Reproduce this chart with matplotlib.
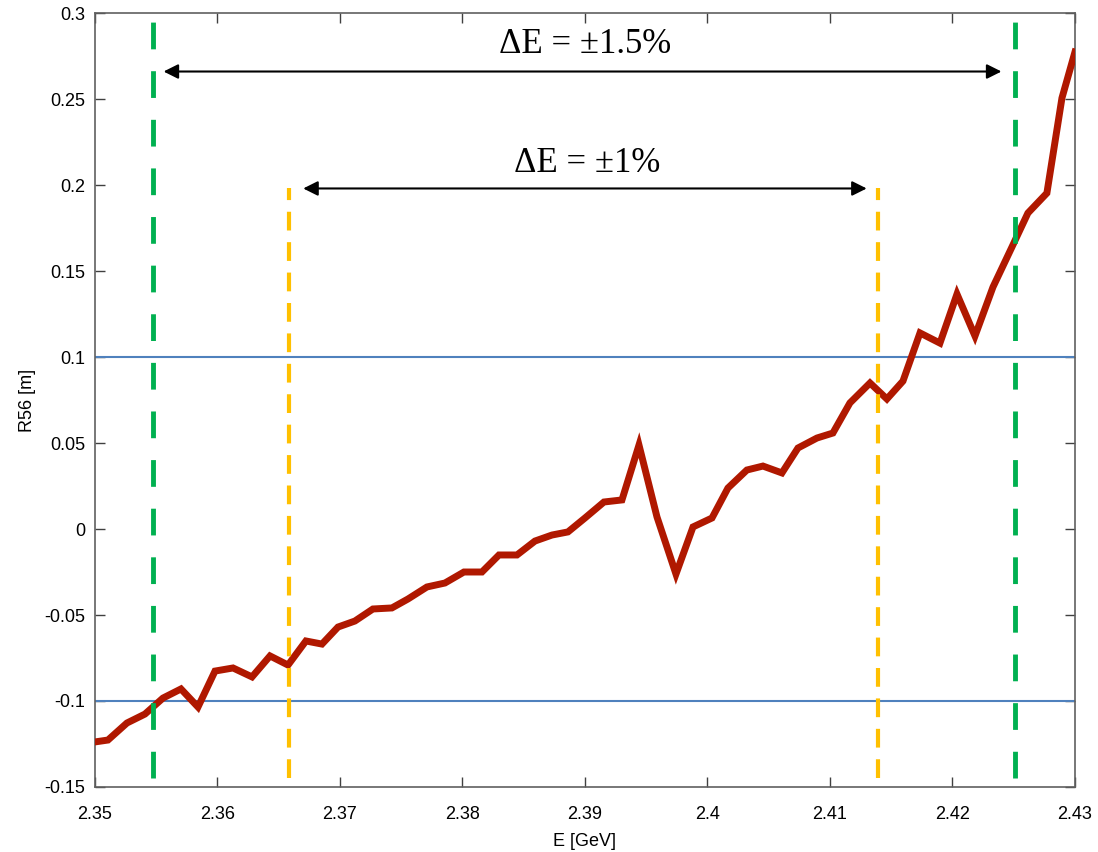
import matplotlib.pyplot as plt
import numpy as np

# beam energy [GeV] and R56 [m]
energy = [2.35000, 2.35106, 2.35261, 2.35408, 2.35555, 2.35702, 2.35841, 2.35980,
          2.36127, 2.36282, 2.36429, 2.36576, 2.36722, 2.36853, 2.36984, 2.37122,
          2.37269, 2.37424, 2.37555, 2.37710, 2.37857, 2.38012, 2.38159, 2.38298,
          2.38445, 2.38592, 2.38731, 2.38861, 2.39000, 2.39155, 2.39302, 2.39441,
          2.39588, 2.39743, 2.39882, 2.40037, 2.40167, 2.40322, 2.40453, 2.40608,
          2.40739, 2.40894, 2.41024, 2.41163, 2.41327, 2.41465, 2.41596, 2.41735,
          2.41898, 2.42037, 2.42184, 2.42331, 2.42486, 2.42616, 2.42771, 2.42894,
          2.43000]
r56 = [-0.1238, -0.1227, -0.1128, -0.1076, -0.0983, -0.0930, -0.1035, -0.0826,
       -0.0808, -0.0860, -0.0738, -0.0791, -0.0651, -0.0669, -0.0570, -0.0535,
       -0.0465, -0.0459, -0.0407, -0.0337, -0.0314, -0.0250, -0.0250, -0.0151,
       -0.0151, -0.0070, -0.0035, -0.0017, 0.0064, 0.0157, 0.0169, 0.0488,
       0.0070, -0.0262, 0.0012, 0.0064, 0.0238, 0.0343, 0.0366, 0.0326,
       0.0471, 0.0529, 0.0558, 0.0733, 0.0849, 0.0756, 0.0860, 0.1140,
       0.1081, 0.1366, 0.1122, 0.1407, 0.1640, 0.1837, 0.1953, 0.2506,
       0.2773]

r56_limits = [-0.1, 0.1]
band_15 = [2.3547, 2.4251]   # dE = +-1.5%
band_10 = [2.3658, 2.4139]   # dE = +-1%

plt.rcParams['font.family'] = ['Liberation Sans', 'DejaVu Sans']
serif = ['Liberation Serif', 'DejaVu Serif']

fig = plt.figure(figsize=(10.98, 8.52), dpi=100)
ax = fig.add_axes([0.0865, 0.0763, 0.8925, 0.9084])

for y in r56_limits:
    ax.axhline(y, color='#4F81BD', lw=1.5, zorder=2)

ax.plot(energy, r56, color='#B01800', lw=5, solid_joinstyle='miter', zorder=3)

for x in band_15:
    ax.plot([x, x], [-0.145, 0.296], color='#00B050', lw=3.5,
            dashes=(5.5, 4.5), zorder=4)
for x in band_10:
    ax.plot([x, x], [-0.145, 0.198], color='#FFC000', lw=3,
            dashes=(4.5, 2.8), zorder=4)

# arrows and labels
ax.annotate('', xy=(2.3556, 0.266), xytext=(2.4240, 0.266),
            arrowprops=dict(arrowstyle='<|-|>', color='black', lw=1.5,
                            mutation_scale=22, shrinkA=0, shrinkB=0))
ax.annotate('', xy=(2.3670, 0.198), xytext=(2.4130, 0.198),
            arrowprops=dict(arrowstyle='<|-|>', color='black', lw=1.5,
                            mutation_scale=22, shrinkA=0, shrinkB=0))
ax.text(2.3900, 0.2815, 'ΔE = ±1.5%', ha='center', va='center',
        fontsize=25, family=serif)
ax.text(2.3902, 0.2125, 'ΔE = ±1%', ha='center', va='center',
        fontsize=25, family=serif)

ax.set_xlim(2.35, 2.43)
ax.set_ylim(-0.15, 0.3)
ax.set_xticks(np.arange(2.35, 2.4301, 0.01))
ax.set_xticklabels(['2.35', '2.36', '2.37', '2.38', '2.39', '2.4', '2.41', '2.42', '2.43'])
ax.set_yticks(np.arange(-0.15, 0.3001, 0.05))
ax.set_yticklabels(['-0.15', '-0.1', '-0.05', '0', '0.05', '0.1', '0.15', '0.2', '0.25', '0.3'])
ax.tick_params(direction='in', top=True, right=True, length=7, width=1,
               color='#404040', labelsize=13, pad=7)
ax.tick_params(axis='x', pad=14)
for s in ax.spines.values():
    s.set_color('#606060')
    s.set_linewidth(1.2)

ax.set_xlabel('E [GeV]', fontsize=13, labelpad=7)
ax.set_ylabel('R56 [m]', fontsize=13, labelpad=6)

fig.savefig('out.png', dpi=100)
